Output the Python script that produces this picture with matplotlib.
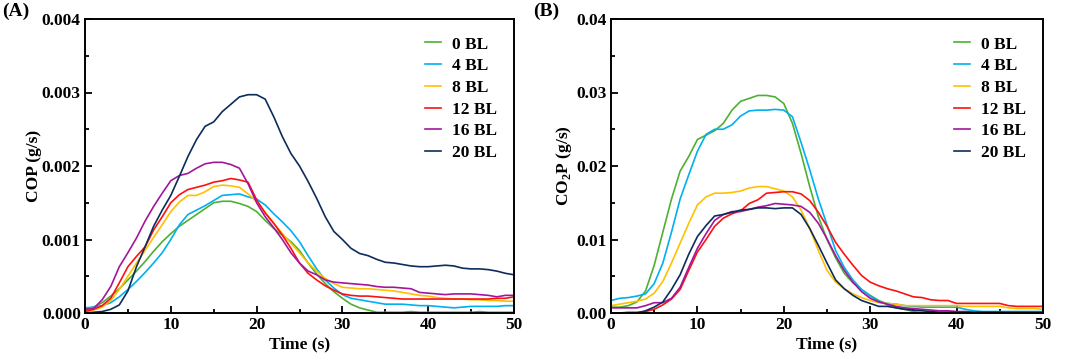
import numpy as np
import matplotlib
matplotlib.use("Agg")
import matplotlib.pyplot as plt
from matplotlib.ticker import MultipleLocator, FormatStrFormatter

plt.rcParams['font.family'] = ['Liberation Serif', 'DejaVu Serif']
plt.rcParams['font.weight'] = 'bold'
plt.rcParams['mathtext.fontset'] = 'custom'
plt.rcParams['mathtext.rm'] = 'Liberation Serif:bold'
plt.rcParams['mathtext.bf'] = 'Liberation Serif:bold'

time = list(range(0, 51))
labels = ["0 BL", "4 BL", "8 BL", "12 BL", "16 BL", "20 BL"]
colors = ["#4db033", "#00b0f0", "#ffc000", "#ff1010", "#a3169c", "#0c2c5c"]

cop_0 = [0.00005, 0.00008, 0.00014, 0.00023, 0.00033, 0.00045, 0.00057, 0.00070, 0.00084, 0.00097,
         0.00108, 0.00118, 0.00126, 0.00134, 0.00142, 0.00150, 0.00152, 0.00152, 0.00149, 0.00145,
         0.00138, 0.00126, 0.00115, 0.00106, 0.00097, 0.00085, 0.00068, 0.00053, 0.00040, 0.00029,
         0.00020, 0.00012, 0.00007, 0.00004, 0.00001, 0.00001, 0.00001, 0.00001, 0.00002, 0.00001,
         0.00001, 0.00001, 0.00001, 0.00001, 0.00001, 0.00001, 0.00002, 0.00001, 0.00001, 0.00001, 0.00001]
cop_4 = [0.00007, 0.00008, 0.00010, 0.00014, 0.00022, 0.00032, 0.00043, 0.00055, 0.00068, 0.00082,
         0.00100, 0.00120, 0.00134, 0.00140, 0.00146, 0.00153, 0.00160, 0.00161, 0.00162, 0.00158,
         0.00155, 0.00147, 0.00135, 0.00124, 0.00112, 0.00097, 0.00078, 0.00060, 0.00045, 0.00034,
         0.00025, 0.00020, 0.00018, 0.00016, 0.00014, 0.00012, 0.00012, 0.00012, 0.00011, 0.00010,
         0.00010, 0.00009, 0.00008, 0.00007, 0.00008, 0.00009, 0.00009, 0.00009, 0.00009, 0.00010, 0.00010]
cop_8 = [0.00002, 0.00004, 0.00008, 0.00017, 0.00032, 0.00050, 0.00068, 0.00085, 0.00103, 0.00120,
         0.00138, 0.00151, 0.00160, 0.00160, 0.00165, 0.00172, 0.00174, 0.00173, 0.00171, 0.00162,
         0.00152, 0.00137, 0.00122, 0.00108, 0.00095, 0.00082, 0.00068, 0.00057, 0.00047, 0.00040,
         0.00035, 0.00034, 0.00033, 0.00033, 0.00032, 0.00031, 0.00030, 0.00028, 0.00026, 0.00024,
         0.00023, 0.00021, 0.00020, 0.00019, 0.00019, 0.00018, 0.00018, 0.00017, 0.00017, 0.00016, 0.00016]
cop_12 = [0.00002, 0.00005, 0.00010, 0.00020, 0.00041, 0.00063, 0.00077, 0.00090, 0.00113, 0.00131,
          0.00150, 0.00161, 0.00168, 0.00171, 0.00174, 0.00178, 0.00180, 0.00183, 0.00181, 0.00178,
          0.00154, 0.00136, 0.00122, 0.00106, 0.00088, 0.00068, 0.00054, 0.00045, 0.00037, 0.00031,
          0.00026, 0.00024, 0.00023, 0.00023, 0.00022, 0.00021, 0.00020, 0.00019, 0.00019, 0.00019,
          0.00019, 0.00019, 0.00019, 0.00019, 0.00019, 0.00019, 0.00019, 0.00019, 0.00020, 0.00020, 0.00022]
cop_16 = [0.00005, 0.00006, 0.00018, 0.00036, 0.00063, 0.00082, 0.00102, 0.00125, 0.00145, 0.00163,
          0.00180, 0.00187, 0.00190, 0.00197, 0.00203, 0.00205, 0.00205, 0.00202, 0.00197, 0.00176,
          0.00150, 0.00131, 0.00116, 0.00100, 0.00082, 0.00068, 0.00057, 0.00052, 0.00045, 0.00042,
          0.00041, 0.00040, 0.00039, 0.00038, 0.00036, 0.00035, 0.00035, 0.00034, 0.00033, 0.00028,
          0.00027, 0.00026, 0.00025, 0.00026, 0.00026, 0.00026, 0.00025, 0.00024, 0.00022, 0.00024, 0.00024]
cop_20 = [0.00000, 0.00001, 0.00002, 0.00005, 0.00011, 0.00030, 0.00063, 0.00090, 0.00118, 0.00140,
          0.00160, 0.00186, 0.00213, 0.00236, 0.00254, 0.00260, 0.00274, 0.00284, 0.00294, 0.00297,
          0.00297, 0.00291, 0.00267, 0.00240, 0.00217, 0.00200, 0.00179, 0.00156, 0.00131, 0.00111,
          0.00100, 0.00088, 0.00081, 0.00078, 0.00073, 0.00069, 0.00068, 0.00066, 0.00064, 0.00063,
          0.00063, 0.00064, 0.00065, 0.00064, 0.00061, 0.00060, 0.00060, 0.00059, 0.00057, 0.00054, 0.00052]

co2_0 = [0.0008, 0.0008, 0.0010, 0.0015, 0.0030, 0.0065, 0.0110, 0.0155, 0.0193, 0.0213,
         0.0236, 0.0242, 0.0248, 0.0258, 0.0276, 0.0288, 0.0292, 0.0296, 0.0296, 0.0294,
         0.0285, 0.0258, 0.0217, 0.0172, 0.0131, 0.0100, 0.0075, 0.0054, 0.0041, 0.0032,
         0.0024, 0.0017, 0.0011, 0.0007, 0.0005, 0.0002, 0.0000, 0.0000, 0.0000, 0.0000,
         0.0000, 0.0000, 0.0000, 0.0000, 0.0000, 0.0000, 0.0000, 0.0000, 0.0000, 0.0000, 0.0000]
co2_4 = [0.0017, 0.0020, 0.0021, 0.0023, 0.0026, 0.0040, 0.0068, 0.0110, 0.0155, 0.0188,
         0.0220, 0.0243, 0.0250, 0.0250, 0.0256, 0.0268, 0.0275, 0.0276, 0.0276, 0.0277,
         0.0276, 0.0267, 0.0232, 0.0195, 0.0155, 0.0120, 0.0085, 0.0062, 0.0045, 0.0032,
         0.0023, 0.0016, 0.0013, 0.0012, 0.0010, 0.0009, 0.0008, 0.0008, 0.0008, 0.0008,
         0.0008, 0.0005, 0.0003, 0.0002, 0.0002, 0.0002, 0.0002, 0.0002, 0.0002, 0.0002, 0.0002]
co2_8 = [0.0010, 0.0012, 0.0014, 0.0016, 0.0019, 0.0027, 0.0043, 0.0068, 0.0095, 0.0122,
         0.0147, 0.0158, 0.0163, 0.0163, 0.0164, 0.0166, 0.0170, 0.0172, 0.0172, 0.0169,
         0.0166, 0.0158, 0.0140, 0.0115, 0.0085, 0.0058, 0.0042, 0.0033, 0.0026, 0.0021,
         0.0017, 0.0014, 0.0013, 0.0012, 0.0010, 0.0010, 0.0010, 0.0010, 0.0010, 0.0010,
         0.0010, 0.0009, 0.0009, 0.0009, 0.0009, 0.0009, 0.0007, 0.0006, 0.0006, 0.0006, 0.0005]
co2_12 = [0.0000, 0.0000, 0.0001, 0.0001, 0.0002, 0.0005, 0.0011, 0.0019, 0.0032, 0.0058,
          0.0083, 0.0100, 0.0118, 0.0129, 0.0135, 0.0139, 0.0149, 0.0154, 0.0163, 0.0164,
          0.0165, 0.0165, 0.0162, 0.0153, 0.0137, 0.0118, 0.0096, 0.0080, 0.0065, 0.0051,
          0.0042, 0.0037, 0.0033, 0.0030, 0.0026, 0.0022, 0.0021, 0.0018, 0.0017, 0.0017,
          0.0013, 0.0013, 0.0013, 0.0013, 0.0013, 0.0013, 0.0010, 0.0009, 0.0009, 0.0009, 0.0009]
co2_16 = [0.0007, 0.0007, 0.0007, 0.0007, 0.0010, 0.0014, 0.0014, 0.0020, 0.0035, 0.0062,
          0.0088, 0.0108, 0.0126, 0.0134, 0.0138, 0.0138, 0.0141, 0.0144, 0.0146, 0.0149,
          0.0148, 0.0147, 0.0145, 0.0137, 0.0122, 0.0101, 0.0078, 0.0058, 0.0042, 0.0029,
          0.0020, 0.0015, 0.0012, 0.0009, 0.0007, 0.0006, 0.0005, 0.0004, 0.0003, 0.0003,
          0.0002, 0.0002, 0.0001, 0.0001, 0.0001, 0.0001, 0.0000, 0.0000, 0.0000, 0.0000, 0.0000]
co2_20 = [0.0000, 0.0000, 0.0000, 0.0000, 0.0003, 0.0008, 0.0015, 0.0032, 0.0052, 0.0080,
          0.0104, 0.0119, 0.0132, 0.0134, 0.0137, 0.0140, 0.0141, 0.0143, 0.0143, 0.0142,
          0.0143, 0.0143, 0.0134, 0.0115, 0.0092, 0.0068, 0.0045, 0.0033, 0.0024, 0.0017,
          0.0013, 0.0009, 0.0009, 0.0007, 0.0005, 0.0004, 0.0003, 0.0002, 0.0001, 0.0001,
          0.0001, 0.0001, 0.0001, 0.0001, 0.0001, 0.0001, 0.0001, 0.0001, 0.0001, 0.0001, 0.0001]

cop_series = [cop_0, cop_4, cop_8, cop_12, cop_16, cop_20]
co2_series = [co2_0, co2_4, co2_8, co2_12, co2_16, co2_20]

fig = plt.figure(figsize=(10.65, 3.61), dpi=100)
W, H = 1065, 361
axA = fig.add_axes([85 / W, 1 - 313 / H, (514 - 85) / W, (313 - 19) / H])
axB = fig.add_axes([611 / W, 1 - 313 / H, (1043 - 611) / W, (313 - 19) / H])

fs = 12.5


def style(ax, ymax, ystep, fmt, ylabel, lpad):
    ax.set_xlim(0, 50)
    ax.set_ylim(0, ymax)
    ax.xaxis.set_major_locator(MultipleLocator(10))
    ax.xaxis.set_minor_locator(MultipleLocator(5))
    ax.yaxis.set_major_locator(MultipleLocator(ystep))
    ax.yaxis.set_minor_locator(MultipleLocator(ystep / 2))
    ax.yaxis.set_major_formatter(FormatStrFormatter(fmt))
    ax.tick_params(which='both', direction='in', top=False, right=False,
                   width=1.3, labelsize=fs)
    ax.tick_params(which='major', length=5, pad=3)
    ax.tick_params(which='minor', length=3)
    for s in ax.spines.values():
        s.set_linewidth(1.4)
    for t in ax.get_xticklabels() + ax.get_yticklabels():
        t.set_fontweight('bold')
    ax.set_xlabel("Time (s)", fontsize=fs, fontweight='bold', labelpad=2)
    ax.set_ylabel(ylabel, fontsize=fs, fontweight='bold', labelpad=lpad)


for data, lab, col in zip(cop_series, labels, colors):
    axA.plot(time, data, color=col, lw=1.2, label=lab)
for data, lab, col in zip(co2_series, labels, colors):
    axB.plot(time, data, color=col, lw=1.2, label=lab)

style(axA, 0.004, 0.001, '%.3f', "COP (g/s)", 0)
style(axB, 0.04, 0.01, '%.2f', r"CO$_{\mathbf{2}}$P (g/s)", 2)

for ax in (axA, axB):
    leg = ax.legend(loc='upper right', frameon=False, fontsize=fs,
                    handlelength=0.95, handletextpad=0.6, labelspacing=0.32,
                    borderaxespad=0.6)
    for t in leg.get_texts():
        t.set_fontweight('bold')

fig.text(2 / W, 1 - 3 / H, "(A)", fontsize=fs + 1.5, fontweight='bold', va='top', ha='left')
fig.text(533 / W, 1 - 3 / H, "(B)", fontsize=fs + 1.5, fontweight='bold', va='top', ha='left')

fig.savefig("out.png", dpi=100)
